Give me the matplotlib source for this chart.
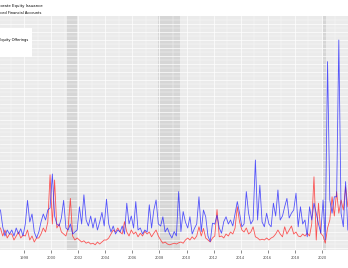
import numpy as np
import pandas as pd
import matplotlib
matplotlib.use("Agg")
import matplotlib.pyplot as plt
import matplotlib.dates as mdates
from matplotlib.patches import Rectangle

# bimonthly readings, billions of dollars
start = "1996-04-01"
ipo = [9.5, 5.3, 3.0, 4.5, 3.5,
       4.5, 3.0, 5.0, 3.5, 4.8, 3.0,
       6.0, 11.9, 6.5, 8.5, 4.0, 2.5,
       4.0, 6.5, 8.5, 7.0, 9.5, 10.0,
       18.5, 8.0, 6.0, 5.5, 7.5, 11.9,
       5.0, 4.5, 6.0, 3.5, 4.0, 4.5,
       10.3, 6.0, 13.3, 7.0, 5.5, 8.0,
       5.0, 7.5, 4.5, 6.5, 8.9, 5.5,
       12.2, 6.0, 4.0, 5.5, 3.5, 4.5,
       4.0, 5.5, 3.5, 11.2, 6.0, 8.0,
       5.0, 11.6, 4.5, 5.0, 3.5, 4.5,
       4.0, 10.8, 5.0, 9.5, 12.0, 6.0,
       5.5, 7.8, 4.0, 5.0, 3.5, 2.5,
       4.1, 3.0, 14.1, 4.1, 9.1, 6.5,
       5.0, 7.8, 3.5, 4.9, 6.0, 12.8,
       4.1, 9.5, 7.8, 3.0, 1.6, 6.2,
       6.0, 8.2, 5.0, 3.7, 6.6, 7.8,
       6.0, 7.0, 5.5, 8.5, 11.6, 8.7,
       5.3, 6.0, 14.1, 8.7, 6.0, 7.0,
       22.0, 7.0, 15.7, 6.5, 5.3, 8.7,
       6.0, 5.3, 11.2, 8.0, 14.5, 7.0,
       8.0, 10.3, 12.4, 7.5, 8.7, 9.5,
       13.7, 5.3, 10.3, 6.0, 7.0, 2.8,
       10.3, 7.0, 11.2, 8.7, 6.0, 3.7,
       12.0, 2.0, 46.6, 12.0, 8.7, 12.8,
       12.8, 52.0, 8.7, 5.3, 16.6, 4.5]
seo = [5.0, 3.0, 4.5, 2.5, 3.5,
       3.5, 2.0, 3.0, 4.0, 2.5, 3.2,
       3.0, 4.5, 2.0, 3.0, 1.5, 2.5,
       2.5, 3.5, 5.0, 4.0, 6.5, 18.3,
       6.0, 17.0, 5.0, 6.0, 4.0, 3.5,
       3.0, 5.0, 12.4, 3.0, 2.0, 2.5,
       2.0, 1.5, 1.8, 1.2, 1.5, 1.0,
       1.2, 0.8, 1.5, 1.0, 1.5, 2.0,
       2.0, 2.5, 3.5, 4.5, 4.0, 5.0,
       4.0, 3.5, 6.6, 4.0, 3.0, 4.5,
       3.5, 4.0, 2.8, 3.7, 3.0, 4.2,
       3.5, 4.0, 2.8, 3.7, 4.5, 3.0,
       2.0, 1.2, 1.5, 1.0, 0.8, 1.0,
       1.2, 1.0, 1.3, 1.5, 1.2, 2.0,
       2.5, 2.0, 2.8, 2.2, 3.0, 5.3,
       3.0, 4.9, 2.5, 2.0, 1.5, 2.5,
       3.0, 9.6, 2.8, 3.0, 2.5, 3.5,
       3.0, 4.0, 3.5, 5.0, 10.3, 6.5,
       4.5, 4.0, 5.0, 3.5, 4.0, 5.3,
       2.8, 2.5, 2.0, 2.2, 2.0, 2.5,
       2.0, 2.5, 2.8, 3.5, 4.5, 3.5,
       2.8, 5.3, 3.5, 4.5, 5.5, 3.5,
       4.0, 3.0, 2.8, 3.5, 3.0, 3.7,
       3.0, 6.0, 17.8, 2.0, 11.2, 3.7,
       3.0, 1.2, 5.0, 7.0, 12.8, 8.0,
       14.1, 8.7, 12.0, 9.5, 15.3, 10.3]
recessions = [("2001-03-01", "2001-11-30"), ("2007-12-01", "2009-06-30"), ("2020-02-01", "2020-04-30")]

dates = pd.date_range(start, periods=len(ipo), freq="2MS")

fig = plt.figure(figsize=(3.48, 2.68), dpi=100)
ax = fig.add_axes([0.0, 18 / 268, 1.0, 234 / 268])
ax.set_facecolor("#EBEBEB")

for a, b in recessions:
    ax.axvspan(pd.Timestamp(a), pd.Timestamp(b), color="#D6D6D6", lw=0, zorder=0.5)

ax.plot(dates, ipo, color="#2020FF", lw=0.6, alpha=0.75, label="Initial Public Offerings", zorder=3)
ax.plot(dates, seo, color="#FF2020", lw=0.6, alpha=0.75, label="Seasoned Equity Offerings", zorder=2)

ax.set_xlim(pd.Timestamp("1996-03-20"), pd.Timestamp("2021-12-05"))
ax.set_ylim(-0.5, 58)

ax.xaxis.set_major_locator(mdates.YearLocator(2))
ax.xaxis.set_minor_locator(mdates.YearLocator(1))
ax.xaxis.set_major_formatter(mdates.DateFormatter("%Y"))
ax.set_yticks(np.arange(0, 58, 2))
ax.set_yticks(np.arange(1, 58, 2), minor=True)
ax.yaxis.set_ticklabels([])
ax.grid(which="major", color="white", lw=0.5, zorder=1)
ax.grid(which="minor", color="white", lw=0.25, zorder=1)
ax.set_axisbelow(True)
for s in ax.spines.values():
    s.set_visible(False)
ax.tick_params(axis="x", which="major", length=2, width=0.4, color="#333333",
               labelsize=2.6, labelcolor="#4D4D4D", pad=2.5)
ax.tick_params(axis="x", which="minor", length=0)
ax.tick_params(axis="y", which="both", length=0)

fig.text(43 / 348, 1 - 6 / 268, "Corporate Equity Issuance", ha="right", va="center", fontsize=2.8)
fig.text(41 / 348, 1 - 13 / 268, "Source: Enhanced Financial Accounts", ha="right", va="center", fontsize=2.6)

# legend box, mostly off the left edge as in the original
box = Rectangle((-0.2, 1 - 57 / 268), 0.2 + 32 / 348, 29 / 268, transform=fig.transFigure,
                facecolor="white", edgecolor="none", zorder=6, clip_on=False)
ax.add_patch(box)
leg = ax.legend(loc="center right", bbox_to_anchor=(31 / 348, 1 - 40 / 268), bbox_transform=fig.transFigure,
                ncol=2, fontsize=2.6, frameon=False, borderpad=0.2, handlelength=2)
leg.set_zorder(7)

fig.savefig("out.png", dpi=100)
